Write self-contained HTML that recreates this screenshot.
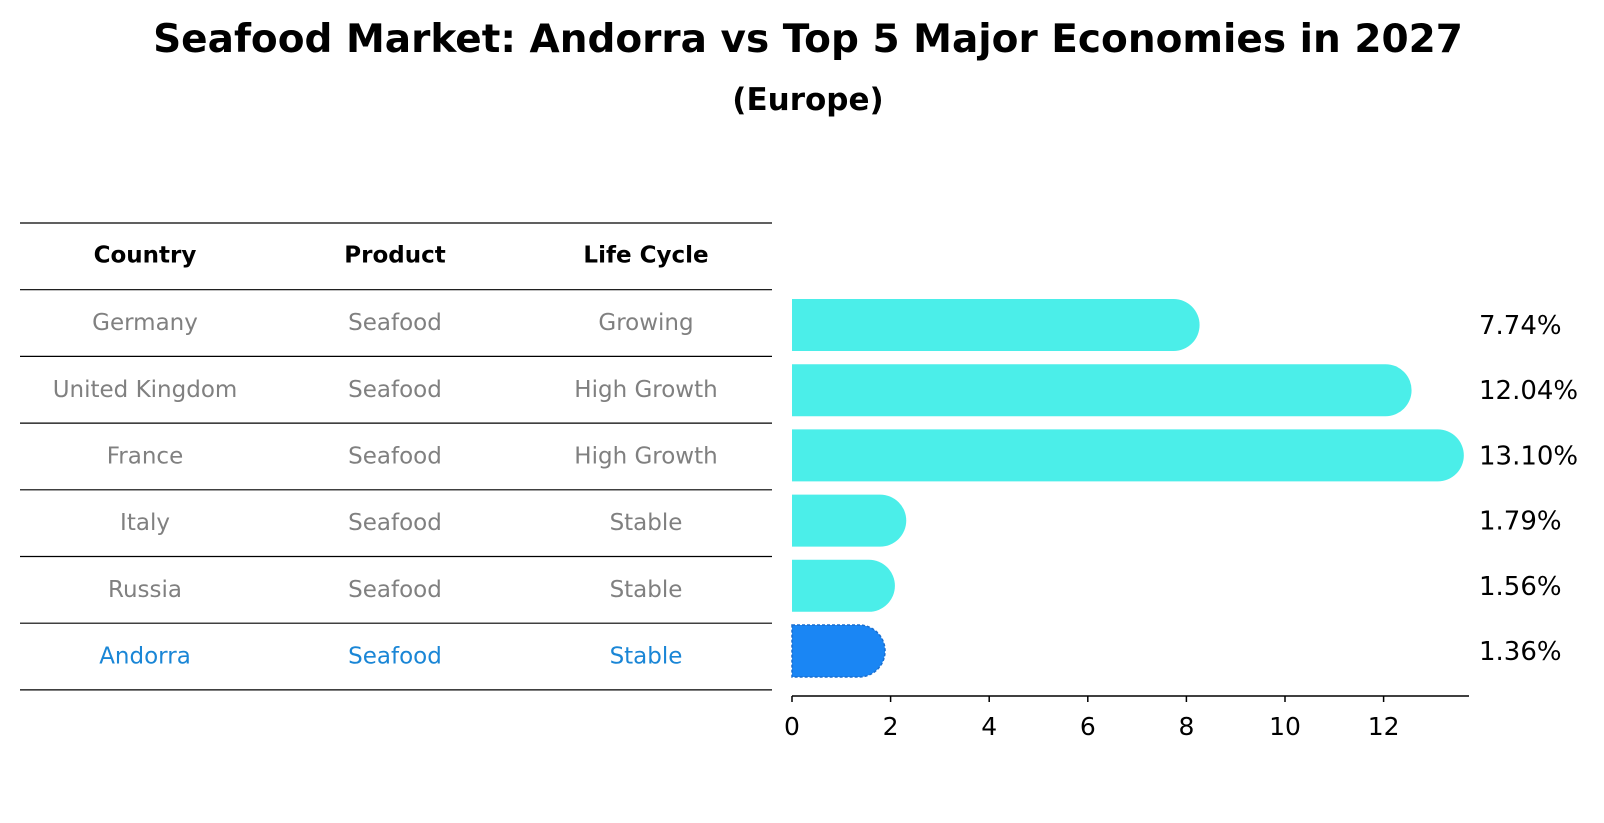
<!DOCTYPE html>
<html><head><meta charset="utf-8"><style>
body{margin:0;background:#fff}
svg{display:block;font-family:"DejaVu Sans","Liberation Sans",sans-serif}
</style></head><body>
<svg width="1604" height="823" viewBox="0 0 1604 823">
<text x="808" y="52" text-anchor="middle" font-size="39" font-weight="bold">Seafood Market: Andorra vs Top 5 Major Economies in 2027</text>
<text x="808" y="110" text-anchor="middle" font-size="31" font-weight="bold">(Europe)</text>
<g id="table"></g>
<g id="bars"></g>
</svg>
<script>
const countries=["Germany","United Kingdom","France","Italy","Russia","Andorra"];
const products=["Seafood","Seafood","Seafood","Seafood","Seafood","Seafood"];
const lifeCycles=["Growing","High Growth","High Growth","Stable","Stable","Stable"];
const values=[7.74,12.04,13.10,1.79,1.56,1.36];
const labels=["7.74%","12.04%","13.10%","1.79%","1.56%","1.36%"];
const ticks=[0,2,4,6,8,10,12];

const NS="http://www.w3.org/2000/svg";
function mk(tag,attrs,parent){const e=document.createElementNS(NS,tag);for(const k in attrs)e.setAttribute(k,attrs[k]);parent.appendChild(e);return e;}
const tbl=document.getElementById('table');
const tTop=223,rowH=66.7,tL=20,tR=772,colX=[145,395,646];
for(let i=0;i<=countries.length+1;i++){
  const l=mk('line',{x1:tL,x2:tR,y1:tTop+i*rowH,y2:tTop+i*rowH,stroke:'#000','stroke-width':1.2},tbl);
  
  
}
const hdr=["Country","Product","Life Cycle"];
hdr.forEach((h,j)=>{
  const t=mk('text',{x:colX[j],y:tTop+rowH/2+6,'text-anchor':'middle','font-size':23,'font-weight':'bold'},tbl);
  t.textContent=h;
  
  
});
countries.forEach((c,i)=>{
  const row=[c,products[i],lifeCycles[i]];
  const col=c==="Andorra"?'#1a86d6':'#808080';
  row.forEach((v,j)=>{
    const t=mk('text',{x:colX[j],y:tTop+(i+1.5)*rowH+7,'text-anchor':'middle','font-size':23,fill:col},tbl);
    t.textContent=v;
    
    
  });
});
const g=document.getElementById('bars');
const x0=792,unit=49.3,y0=325,step=65.2,bh=52,axisY=696;
const xs=v=>x0+v*unit, ys=i=>y0+i*step;
values.forEach((v,i)=>{
  const isA=countries[i]==="Andorra";
  const x1=xs(v),yc=ys(i),r=bh/2;
  const p=mk('path',{d:`M${x0},${yc-r} L${x1},${yc-r} A${r},${r} 0 0 1 ${x1},${yc+r} L${x0},${yc+r} Z`,fill:isA?'#1a86f4':'#4beee9'},g);
  if(isA){p.setAttribute('stroke','#1a6fd0');p.setAttribute('stroke-dasharray','3,2');p.setAttribute('stroke-width','1.5');}
  
  
  const t=mk('text',{x:1479,y:yc+9,'font-size':26},g);
  t.textContent=labels[i];
  
  
});
const ax=mk('line',{x1:x0,x2:1469,y1:axisY,y2:axisY,stroke:'#000','stroke-width':1.5},g);


ticks.forEach(v=>{
  const l=mk('line',{x1:xs(v),x2:xs(v),y1:axisY,y2:axisY+6,stroke:'#000','stroke-width':1.5},g);
  
  
  const t=mk('text',{x:xs(v),y:axisY+39,'text-anchor':'middle','font-size':25},g);
  t.textContent=v;
  
  
});
</script>
</body></html>
